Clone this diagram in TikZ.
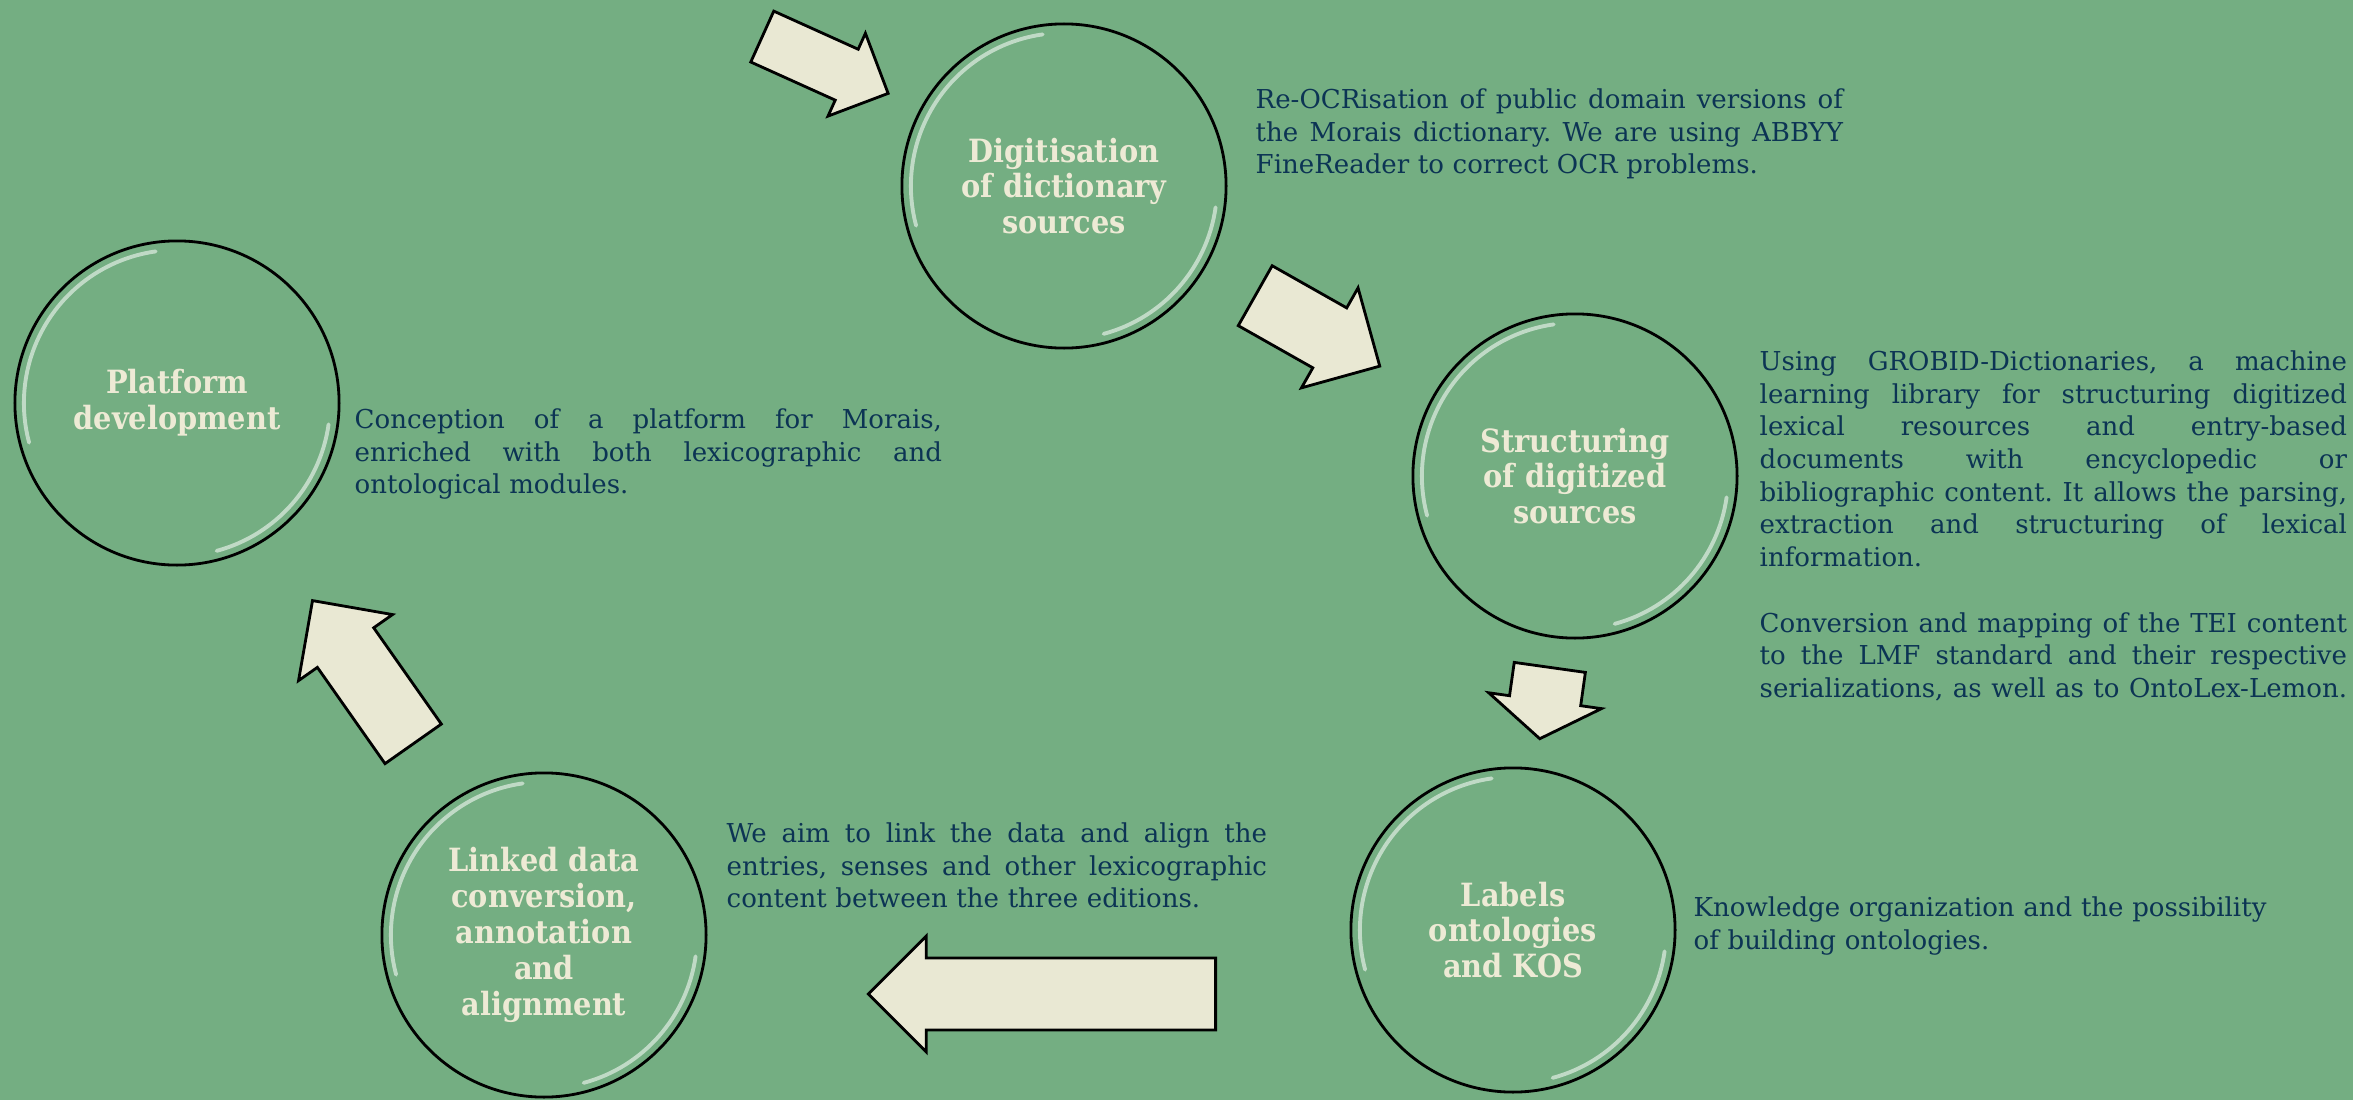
\documentclass[tikz,border=0pt]{standalone}
\usepackage{fontspec}
\setmainfont{DejaVu Serif}
\newfontfamily\titlefont{DejaVu Serif Condensed}
\usetikzlibrary{shapes.arrows, positioning}
\frenchspacing

\definecolor{bggreen}{RGB}{116,174,130}
\definecolor{cream}{RGB}{233,232,211}
\definecolor{titlecream}{RGB}{237,234,213}
\definecolor{navy}{RGB}{12,52,84}

\newcommand{\descwidth}{\hsize}
\newcommand{\fullline}[1]{\makebox[\descwidth][s]{\spaceskip=0pt\xspaceskip=0pt #1}\par}

\tikzstyle{gloss}			=[white, opacity=.55, line width=1.1pt, line cap=round]
\tikzstyle{stage}			=[circle, draw=black, line width=0.8pt, fill=bggreen, minimum size=3.24cm, inner sep=0pt, align=center, text=titlecream, font=\titlefont\bfseries\fontsize{9.1}{10.2}\selectfont,
								path picture={
									\draw[gloss] (path picture bounding box.center) ++(98:1.53cm) arc[start angle=98, end angle=195, radius=1.53cm];
									\draw[gloss] (path picture bounding box.center) ++(-8:1.53cm) arc[start angle=-8, end angle=-75, radius=1.53cm];
								}]
\tikzstyle{blockarrow}	=[single arrow, draw=black, line width=0.8pt, fill=cream, inner sep=0pt, anchor=tail, single arrow head indent=0pt]
\tikzstyle{desc}			=[anchor=north west, inner sep=0pt, text=navy, font=\fontsize{7.4}{9.3}\selectfont]
\tikzset{descw/.style={desc, text width=#1, execute at begin node={\parindent=0pt\renewcommand{\descwidth}{#1}}}}

\begin{document}
\begin{tikzpicture}[x=0.01cm, y=-0.01cm]

	\useasboundingbox (0,0) rectangle (2353,1100);
	\fill[bggreen] (0,0) rectangle (2353,1100);

	% stages
	\node (Digitisation)	[stage]	at (1064, 186)	{Digitisation\\of dictionary\\sources};
	\node (Structuring)	[stage]	at (1575, 476)	{Structuring\\of digitized\\sources};
	\node (Labels)			[stage]	at (1513, 930)	{Labels\\ontologies\\and KOS};
	\node (Linked)			[stage]	at (544, 935)	{Linked data\\conversion,\\annotation\\and\\alignment};
	\node (Platform)		[stage]	at (177, 403)	{Platform\\development};

	% arrows
	\node (ArrowIn)			[blockarrow, minimum height=1.38cm, inner ysep=0.265cm, single arrow head extend=0.175cm, rotate=-24.3]	at (761, 36)		{};
	\node (ArrowDigit)		[blockarrow, minimum height=1.43cm, inner ysep=0.33cm, single arrow head extend=0.23cm, rotate=-29.5]	at (1254, 295)	{};
	\node (ArrowStruct)		[blockarrow, minimum height=0.72cm, inner ysep=0.345cm, single arrow head extend=0.21cm, single arrow tip angle=112, rotate=-98]	at (1550, 666)	{};
	\node (ArrowLabels)		[blockarrow, minimum height=3.47cm, inner ysep=0.345cm, single arrow head extend=0.22cm, rotate=180]	at (1217, 994)	{};
	\node (ArrowLinked)		[blockarrow, minimum height=1.75cm, inner ysep=0.33cm, single arrow head extend=0.23cm, rotate=125.1]	at (414, 745)		{};

	% descriptions
	\node (DigitisationDesc)	[descw=5.87cm]	at (1255, 88)
	{
		\fullline{Re-OCRisation of public domain versions of}
		\fullline{the Morais dictionary. We are using ABBYY}
		FineReader to correct OCR problems.
	};
	\node (StructuringDesc)	[descw=5.87cm]	at (1759, 350)
	{
		\fullline{Using GROBID-Dictionaries, a machine}
		\fullline{learning library for structuring digitized}
		\fullline{lexical resources and entry-based}
		\fullline{documents with encyclopedic or}
		\fullline{bibliographic content. It allows the parsing,}
		\fullline{extraction and structuring of lexical}
		information.\par
		\vspace{\baselineskip}
		\fullline{Conversion and mapping of the TEI content}
		\fullline{to the LMF standard and their respective}
		\fullline{serializations, as well as to OntoLex-Lemon.}
	};
	\node (LabelsDesc)		[descw=6.2cm, align=left]	at (1693, 896)
	{
		Knowledge organization and the possibility\\
		of building ontologies.
	};
	\node (LinkedDesc)		[descw=5.40cm]	at (726, 822)
	{
		\fullline{We aim to link the data and align the}
		\fullline{entries, senses and other lexicographic}
		content between the three editions.
	};
	\node (PlatformDesc)		[descw=5.87cm]	at (354, 408)
	{
		\fullline{Conception of a platform for Morais,}
		\fullline{enriched with both lexicographic and}
		ontological modules.
	};

\end{tikzpicture}
\end{document}
